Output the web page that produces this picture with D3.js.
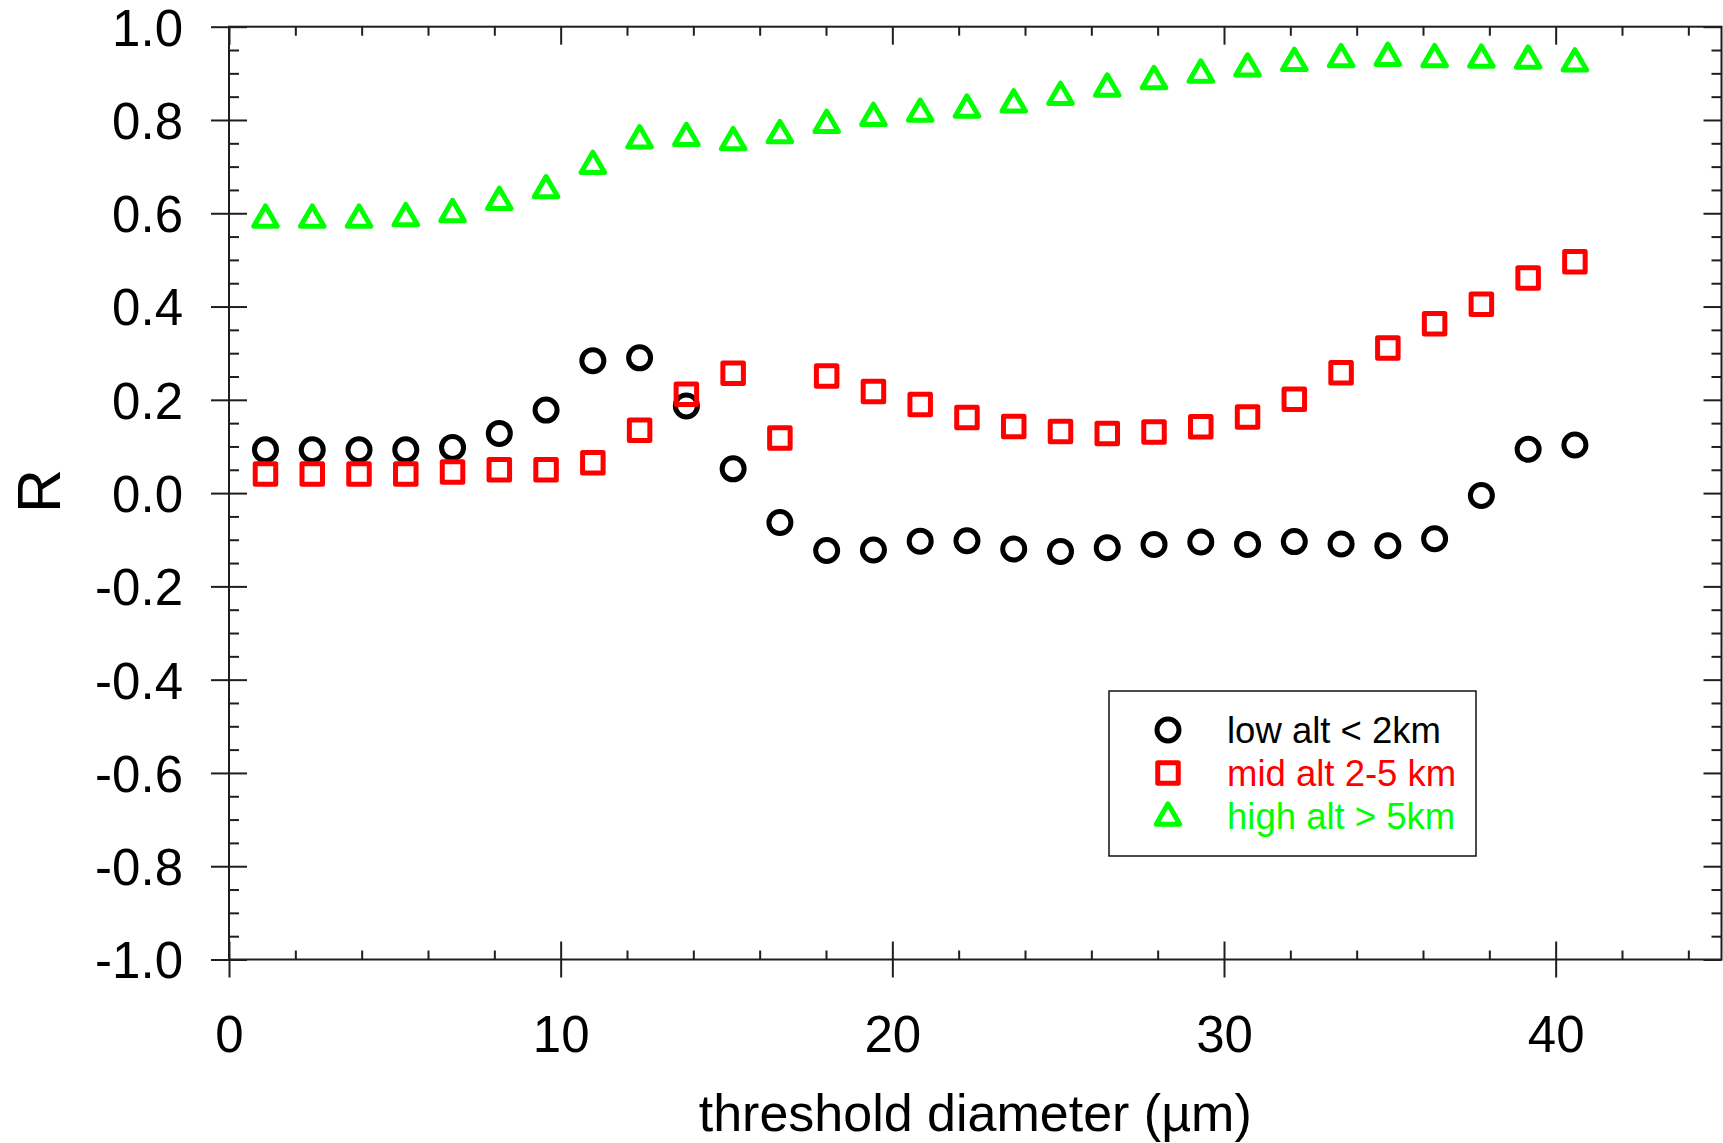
<!DOCTYPE html>
<html>
<head>
<meta charset="utf-8">
<script src="https://cdn.jsdelivr.net/npm/d3@7"></script>
<style>
  html, body { margin: 0; padding: 0; background: #fff; }
  svg { display: block; }
  text { font-family: "Liberation Sans", Arial, Helvetica, sans-serif; }
</style>
</head>
<body>
<svg id="chart" width="1723" height="1143"></svg>
<script>
// Threshold diameters (µm) at which the correlation was evaluated
const diameters = [1.10, 2.51, 3.92, 5.33, 6.74, 8.15, 9.56, 10.97, 12.38, 13.79,
  15.20, 16.61, 18.02, 19.43, 20.84, 22.25, 23.66, 25.07, 26.48, 27.89,
  29.30, 30.71, 32.12, 33.53, 34.94, 36.35, 37.76, 39.17, 40.58];

// Correlation coefficient R per altitude band
const lowAlt = [0.093, 0.093, 0.093, 0.093, 0.098, 0.128, 0.178, 0.284, 0.290, 0.187,
  0.052, -0.063, -0.123, -0.122, -0.103, -0.102, -0.120, -0.125, -0.117, -0.110,
  -0.105, -0.110, -0.104, -0.109, -0.113, -0.098, -0.005, 0.094, 0.103];
const midAlt = [0.041, 0.041, 0.041, 0.041, 0.045, 0.050, 0.050, 0.065, 0.135, 0.212,
  0.257, 0.118, 0.251, 0.218, 0.190, 0.162, 0.143, 0.132, 0.128, 0.131,
  0.142, 0.163, 0.201, 0.258, 0.311, 0.363, 0.405, 0.461, 0.496];
const highAlt = [0.594, 0.594, 0.594, 0.597, 0.606, 0.632, 0.657, 0.709, 0.764, 0.769,
  0.760, 0.775, 0.797, 0.812, 0.821, 0.830, 0.841, 0.857, 0.875, 0.891,
  0.905, 0.918, 0.930, 0.938, 0.941, 0.938, 0.937, 0.935, 0.929];

const seriesNames = ["low alt < 2km", "mid alt 2-5 km", "high alt > 5km"];
const seriesColors = ["#000000", "#ff0000", "#00ff00"];

// Axis ticks and labels
const xMajorTicks = [0, 10, 20, 30, 40];
const xTickLabels = ["0", "10", "20", "30", "40"];
const xMinorTicks = [2, 4, 6, 8, 12, 14, 16, 18, 22, 24, 26, 28, 32, 34, 36, 38, 42, 44];
const yMajorTicks = [1.0, 0.8, 0.6, 0.4, 0.2, 0.0, -0.2, -0.4, -0.6, -0.8, -1.0];
const yTickLabels = ["1.0", "0.8", "0.6", "0.4", "0.2", "0.0", "-0.2", "-0.4", "-0.6", "-0.8", "-1.0"];
const yMinorTicks = [0.95, 0.9, 0.85, 0.75, 0.7, 0.65, 0.55, 0.5, 0.45, 0.35, 0.3, 0.25,
  0.15, 0.1, 0.05, -0.05, -0.1, -0.15, -0.25, -0.3, -0.35, -0.45, -0.5, -0.55,
  -0.65, -0.7, -0.75, -0.85, -0.9, -0.95];

const svg = d3.select("#chart");
const plotLeft = 229, plotRight = 1721.5, plotTop = 26.7, plotBottom = 959.5;
const axisColor = "#1e1e1e";

const x = d3.scaleLinear().domain([0, 45]).range([plotLeft, plotRight]);
const y = d3.scaleLinear().domain([-1, 1]).range([plotBottom, plotTop]);

function styleAxis(g) {
  g.select(".domain").remove();
  g.selectAll(".tick line").attr("stroke", axisColor).attr("stroke-width", 2);
  g.selectAll(".tick text").attr("fill", "#000").attr("font-family", "Liberation Sans, Arial, sans-serif");
}

// Plot frame
svg.append("rect")
  .attr("x", plotLeft).attr("y", plotTop)
  .attr("width", plotRight - plotLeft).attr("height", plotBottom - plotTop)
  .attr("fill", "none").attr("stroke", axisColor).attr("stroke-width", 2);

// Left axis: labelled majors crossing the frame, minors pointing in
svg.append("g").attr("transform", `translate(${plotLeft},0)`)
  .call(d3.axisLeft(y).tickValues(yMajorTicks).tickSize(18).tickSizeOuter(0).tickPadding(28)
    .tickFormat((d, i) => yTickLabels[i]))
  .call(styleAxis)
  .call(g => g.selectAll(".tick text").attr("font-size", 51).attr("dy", "0.36em"));
svg.append("g").attr("transform", `translate(${plotLeft},0)`)
  .call(d3.axisRight(y).tickValues(yMajorTicks).tickSize(18).tickSizeOuter(0).tickFormat(""))
  .call(styleAxis);
svg.append("g").attr("transform", `translate(${plotLeft},0)`)
  .call(d3.axisRight(y).tickValues(yMinorTicks).tickSize(10).tickSizeOuter(0).tickFormat(""))
  .call(styleAxis);

// Right axis: inward ticks only
svg.append("g").attr("transform", `translate(${plotRight},0)`)
  .call(d3.axisLeft(y).tickValues(yMajorTicks).tickSize(18).tickSizeOuter(0).tickFormat(""))
  .call(styleAxis);
svg.append("g").attr("transform", `translate(${plotRight},0)`)
  .call(d3.axisLeft(y).tickValues(yMinorTicks).tickSize(10).tickSizeOuter(0).tickFormat(""))
  .call(styleAxis);

// Bottom axis
svg.append("g").attr("transform", `translate(0,${plotBottom})`)
  .call(d3.axisBottom(x).tickValues(xMajorTicks).tickSize(18).tickSizeOuter(0).tickPadding(38)
    .tickFormat((d, i) => xTickLabels[i]))
  .call(styleAxis)
  .call(g => g.selectAll(".tick text").attr("font-size", 51));
svg.append("g").attr("transform", `translate(0,${plotBottom})`)
  .call(d3.axisTop(x).tickValues(xMajorTicks).tickSize(18).tickSizeOuter(0).tickFormat(""))
  .call(styleAxis);
svg.append("g").attr("transform", `translate(0,${plotBottom})`)
  .call(d3.axisTop(x).tickValues(xMinorTicks).tickSize(9).tickSizeOuter(0).tickFormat(""))
  .call(styleAxis);

// Top axis: inward ticks only
svg.append("g").attr("transform", `translate(0,${plotTop})`)
  .call(d3.axisBottom(x).tickValues(xMajorTicks).tickSize(18).tickSizeOuter(0).tickFormat(""))
  .call(styleAxis);
svg.append("g").attr("transform", `translate(0,${plotTop})`)
  .call(d3.axisBottom(x).tickValues(xMinorTicks).tickSize(9).tickSizeOuter(0).tickFormat(""))
  .call(styleAxis);

// Axis titles
svg.append("text")
  .attr("x", (plotLeft + plotRight) / 2).attr("y", 1131)
  .attr("text-anchor", "middle").attr("font-size", 52).attr("fill", "#000")
  .text("threshold diameter (µm)");
svg.append("text")
  .attr("transform", "translate(60,491) rotate(-90)")
  .attr("text-anchor", "middle").attr("font-size", 61).attr("fill", "#000")
  .text("R");

// Marker shapes
const triSide = 23.5, triH = triSide * Math.sqrt(3) / 2;
const trianglePath = `M0,${-triH / 2}L${triSide / 2},${triH / 2}L${-triSide / 2},${triH / 2}Z`;
const sq = 20.5;

function drawMarker(g, kind, color) {
  if (kind === 0) {
    g.append("circle").attr("r", 11);
  } else if (kind === 1) {
    g.append("rect").attr("x", -sq / 2).attr("y", -sq / 2).attr("width", sq).attr("height", sq);
  } else {
    g.append("path").attr("d", trianglePath);
  }
  g.selectAll("*")
    .attr("fill", "none").attr("stroke", color).attr("stroke-width", 5)
    .attr("stroke-linejoin", "round");
}

const series = [lowAlt, midAlt, highAlt];
series.forEach((vals, k) => {
  const grp = svg.append("g").attr("class", "series-" + k);
  vals.forEach((v, i) => {
    const m = grp.append("g").attr("transform", `translate(${x(diameters[i])},${y(v)})`);
    drawMarker(m, k, seriesColors[k]);
  });
});

// Legend
const legend = svg.append("g");
legend.append("rect")
  .attr("x", 1109).attr("y", 691).attr("width", 367).attr("height", 165)
  .attr("fill", "#fff").attr("stroke", "#111").attr("stroke-width", 1.5);
const legendRows = [730, 773, 814];
const legendBaselines = [743, 786, 829];
seriesNames.forEach((name, k) => {
  const m = legend.append("g").attr("transform", `translate(1168,${legendRows[k]})`);
  drawMarker(m, k, seriesColors[k]);
  legend.append("text")
    .attr("x", 1227).attr("y", legendBaselines[k])
    .attr("font-size", 36.5).attr("fill", seriesColors[k])
    .text(name);
});
</script>
</body>
</html>
